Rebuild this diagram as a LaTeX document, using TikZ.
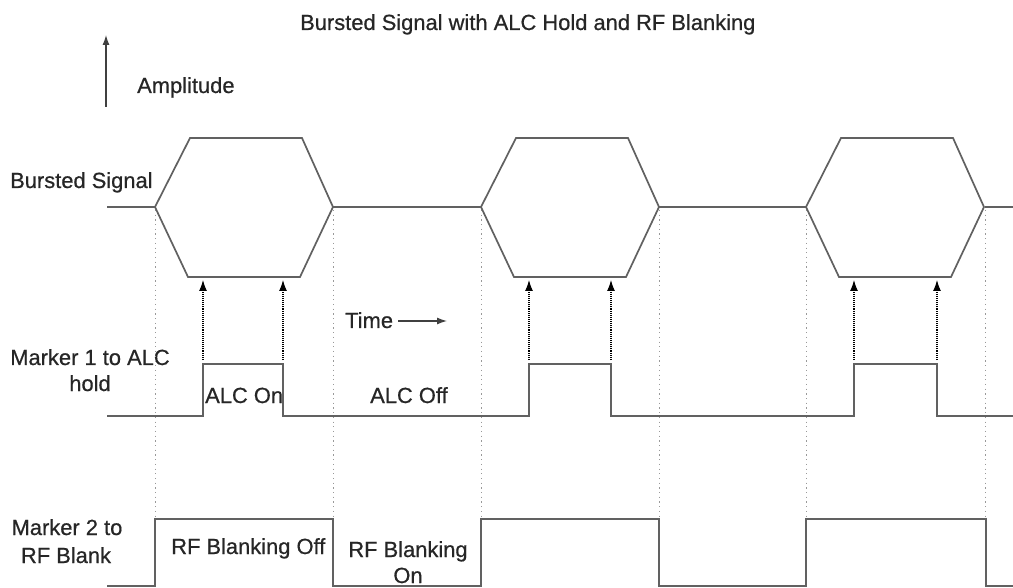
\documentclass[tikz,border=0pt]{standalone}
\usepackage{fontspec}
\setmainfont{Liberation Sans}[FakeBold=0.6]
\newfontfamily\lblfont{Liberation Sans}[FakeBold=0.6]
\usetikzlibrary{arrows.meta}
\begin{document}
\begin{tikzpicture}[x=1pt,y=-1pt,
  lbl/.style={inner sep=0pt,text=black!85,font=\lblfont\fontsize{21.9}{26}\selectfont},
  sig/.style={draw=black!62,line width=1.7pt,line join=miter},
  guide/.style={draw=black!40,line width=0.9pt,dash pattern=on 1.2pt off 3.5pt},
  trig/.style={draw=black,line width=1.1pt,densely dotted,-{Latex[length=11pt,width=8pt]}},
  axisarrow/.style={draw=black!75,line width=1.3pt,-{Latex[length=10pt,width=7pt]}}]
\useasboundingbox (0,0) rectangle (1013,588);
\fill[white] (0,0) rectangle (1013,588);

% texts
\node[lbl,anchor=base west] (title) at (300,30) {Bursted Signal with ALC Hold and RF Blanking};
\node[lbl,anchor=base west] (amp) at (137,93) {Amplitude};
\node[lbl,anchor=base west] (bs) at (10,188) {Bursted Signal};
\node[lbl,anchor=base] (m1a) at (90,365) {Marker 1 to ALC};
\node[lbl,anchor=base] (m1b) at (90,391) {hold};
\node[lbl,anchor=base] (m2a) at (67,535) {Marker 2 to};
\node[lbl,anchor=base] (m2b) at (66,563) {RF Blank};
\node[lbl,anchor=base west] (time) at (345,328) {Time};
\node[lbl,anchor=base west] (alcon) at (205,403) {ALC On};
\node[lbl,anchor=base west] (alcoff) at (370,403) {ALC Off};
\node[lbl,anchor=base west] (rfoff) at (171,554) {RF Blanking Off};
\node[lbl,anchor=base] (rfon1) at (408,557) {RF Blanking};
\node[lbl,anchor=base] (rfon2) at (408,583) {On};

% axis arrows
\coordinate (ampS) at (106,107);
\coordinate (ampE) at (106,35);
\draw[axisarrow] (ampS) -- (ampE);
\coordinate (timeS) at (398,321);
\coordinate (timeE) at (447,321);
\draw[axisarrow] (timeS) -- (timeE);

% guide lines
\foreach \gx in {155,333,481,659,806,985}
  \draw[guide] (\gx,210) -- (\gx,519);

% bursted signal
\draw[sig] (107,207) -- (155,207);
\draw[sig] (333,207) -- (481,207);
\draw[sig] (659,207) -- (806,207);
\draw[sig] (985,207) -- (1013,207);
\foreach \o in {0,326,651}
  \draw[sig] (155+\o,207) -- (190+\o,138) -- (302+\o,138) -- (333+\o,207)
     -- (300+\o,277) -- (188+\o,277) -- cycle;

% marker 1
\draw[sig] (107,416) -- (203,416) -- (203,364) -- (283,364) -- (283,416)
  -- (529,416) -- (529,364) -- (611,364) -- (611,416)
  -- (854,416) -- (854,364) -- (937,364) -- (937,416) -- (1013,416);

% marker 2
\draw[sig] (107,586) -- (155,586) -- (155,519) -- (333,519) -- (333,586)
  -- (481,586) -- (481,519) -- (659,519) -- (659,586)
  -- (806,586) -- (806,519) -- (986,519) -- (986,586) -- (1013,586);

% trigger arrows
\foreach \tx [count=\i] in {203,283,529,611,854,937} {
  \coordinate (tS\i) at (\tx,360);
  \coordinate (tE\i) at (\tx,280);
  \draw[trig] (tS\i) -- (tE\i);
}
\end{tikzpicture}
\end{document}
